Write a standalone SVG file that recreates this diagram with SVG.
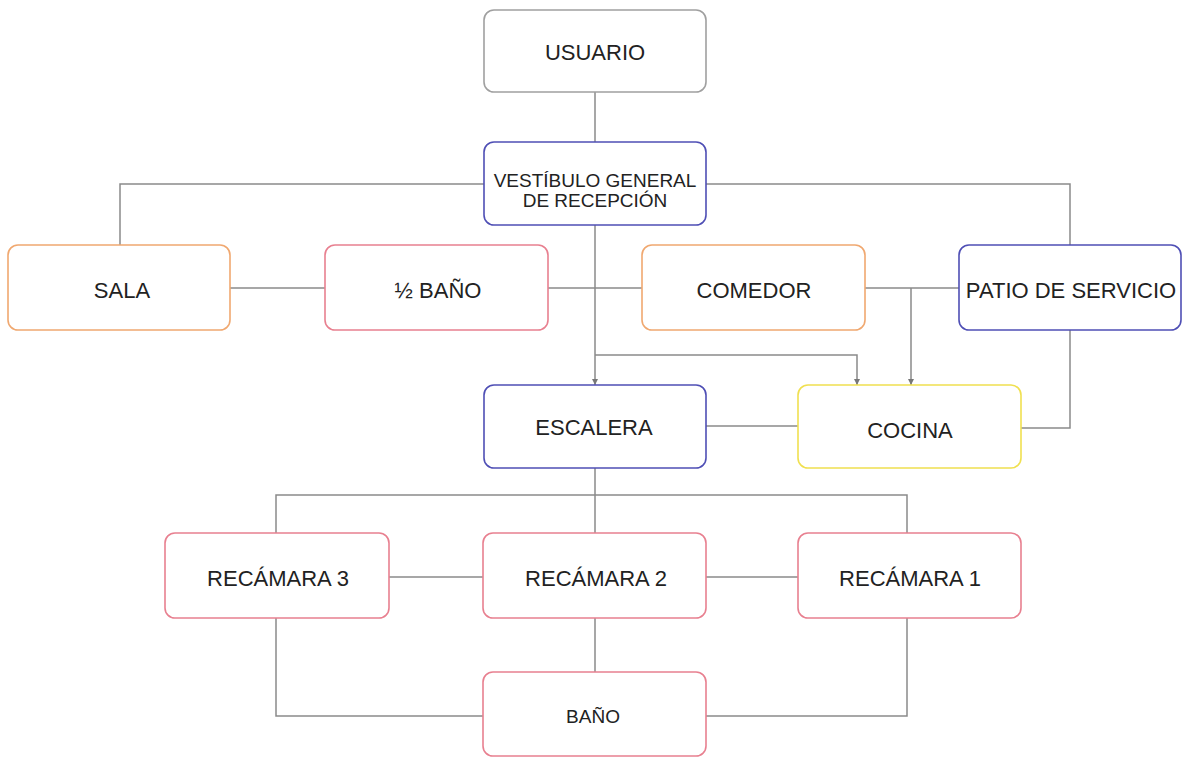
<svg xmlns="http://www.w3.org/2000/svg" width="1182" height="758" viewBox="0 0 1182 758">
<style>
.box{fill:#fff;stroke-width:1.6}
.gray{stroke:#a0a0a0}
.blue{stroke:#4f4fb5}
.orange{stroke:#f0a870}
.red{stroke:#e88090}
.yellow{stroke:#f0e050}
text{font-family:"Liberation Sans",Arial,sans-serif;font-size:22px;fill:#222;text-anchor:middle;dominant-baseline:central}
.sm{font-size:19px}
.conn path{fill:none;stroke:#8a8a8a;stroke-width:1.5}
</style>
<defs>
<marker id="arr" viewBox="0 0 6 6" refX="6" refY="3" markerWidth="6" markerHeight="6" orient="auto" markerUnits="userSpaceOnUse">
<path d="M0,0 L6,3 L0,6 z" fill="#777"/>
</marker>
</defs>
<rect width="1182" height="758" fill="#fff"/>
<g class="conn">
<path d="M595,92 V142"/>
<path d="M484,184 H120 V245"/>
<path d="M706,184 H1070 V245"/>
<path d="M230,288 H325"/>
<path d="M548,288 H642"/>
<path d="M595,225 V385" marker-end="url(#arr)"/>
<path d="M595,355 H857 V385" marker-end="url(#arr)"/>
<path d="M865,288 H959"/>
<path d="M911,288 V385" marker-end="url(#arr)"/>
<path d="M1070,330 V428 H1021"/>
<path d="M706,426 H798"/>
<path d="M595,468 V533"/>
<path d="M276,533 V495 H907 V533"/>
<path d="M389,577 H483"/>
<path d="M706,577 H798"/>
<path d="M595,618 V672"/>
<path d="M276,618 V716 H483"/>
<path d="M907,618 V716 H706"/>
</g>
<g id="usuario"><rect class="box gray" x="484" y="10" width="222" height="82" rx="10"/><text x="595" y="52">USUARIO</text></g>
<g id="vestibulo"><rect class="box blue" x="484" y="142" width="222" height="83" rx="10"/><text class="sm" x="595" y="180">VESTÍBULO GENERAL</text><text class="sm" x="595" y="200">DE RECEPCIÓN</text></g>
<g id="sala"><rect class="box orange" x="8" y="245" width="222" height="85" rx="10"/><text x="122" y="290">SALA</text></g>
<g id="medio-bano"><rect class="box red" x="325" y="245" width="223" height="85" rx="10"/><text x="438" y="290">½ BAÑO</text></g>
<g id="comedor"><rect class="box orange" x="642" y="245" width="223" height="85" rx="10"/><text x="754" y="290">COMEDOR</text></g>
<g id="patio"><rect class="box blue" x="959" y="245" width="222" height="85" rx="10"/><text x="1071" y="290">PATIO DE SERVICIO</text></g>
<g id="escalera"><rect class="box blue" x="484" y="385" width="222" height="83" rx="10"/><text x="594" y="427">ESCALERA</text></g>
<g id="cocina"><rect class="box yellow" x="798" y="385" width="223" height="83" rx="10"/><text x="910" y="430">COCINA</text></g>
<g id="recamara3"><rect class="box red" x="165" y="533" width="224" height="85" rx="10"/><text x="278" y="578">RECÁMARA 3</text></g>
<g id="recamara2"><rect class="box red" x="483" y="533" width="223" height="85" rx="10"/><text x="596" y="578">RECÁMARA 2</text></g>
<g id="recamara1"><rect class="box red" x="798" y="533" width="223" height="85" rx="10"/><text x="910" y="578">RECÁMARA 1</text></g>
<g id="bano"><rect class="box red" x="483" y="672" width="223" height="84" rx="10"/><text class="sm" x="593" y="716">BAÑO</text></g>
</svg>
